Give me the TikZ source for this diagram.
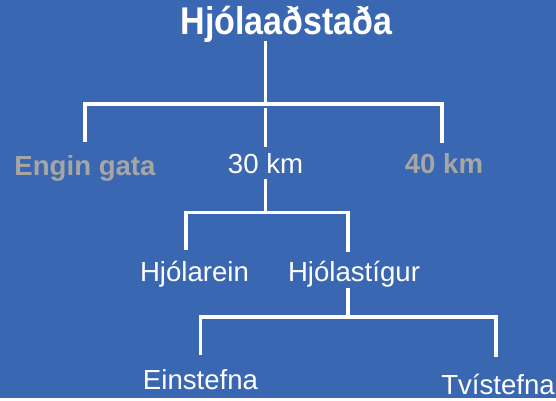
\documentclass[tikz,border=0pt]{standalone}
\usepackage{fontspec}
\setmainfont{Liberation Sans}
\newfontfamily\titill[FakeStretch=0.88]{Liberation Sans}
\definecolor{bakgrunnur}{HTML}{3A67B1}
\definecolor{grar}{HTML}{A6A6A6}
\tikzset{
    merki/.style={
           anchor=base,
           inner sep=0pt,
           text height=14.9pt,
           text depth=4.3pt,
           text=white,
           font=\fontsize{20.7}{24}\selectfont},
    merkigrar/.style={
           merki,
           text=grar,
           font=\fontsize{20.7}{24}\selectfont\bfseries},
    lina/.style={
           draw=white,
           line width=2.4pt}
}

\begin{document}
\begin{tikzpicture}[x=0.75pt, y=-0.75pt]
        \fill[bakgrunnur] (0,0) rectangle (556,398);
        \node[anchor=base, inner sep=0pt, text=white,
              font=\titill\bfseries\fontsize{29}{34}\selectfont] (titill) at (286.5,35) {Hjólaaðstaða};
        \node[merkigrar] (engin) at (85,175.7) {Engin gata};
        \node[merki] (km30) at (265.5,173.3) {30 km};
        \node[merkigrar] (km40) at (444,173.3) {40 km};
        \node[merki] (hjolarein) at (194.5,281.7) {Hjólarein};
        \node[merki] (hjolastigur) at (354,281.7) {Hjólastígur};
        \node[merki] (einstefna) at (200.5,389.3) {Einstefna};
        \node[merki] (tvistefna) at (498,394.3) {Tvístefna};
        \coordinate (g1) at (265.5,104);
        \coordinate (g2) at (265.5,212.5);
        \coordinate (g3) at (348,317);
        % efsta grein
        \draw[lina, shorten <=-2pt] (titill.south -| g1) -- (g1);
        \draw[lina, shorten >=10pt] (g1) -| (engin.north);
        \draw[lina, shorten >=7.5pt] (g1) -| ([xshift=-1.5pt]km40.north);
        \draw[lina, shorten <=3pt, shorten >=4.8pt] (g1) -- (km30.north);
        % 30 km
        \draw[lina] (km30.south) -- (g2);
        \draw[lina, shorten >=8.9pt] (g2) -| ([xshift=-6.4pt]hjolarein.north);
        \draw[lina, shorten >=7.1pt] (g2) -| ([xshift=-4.5pt]hjolastigur.north);
        % hjolastigur
        \draw[lina] ([xshift=-4.5pt]hjolastigur.south) -- (g3);
        \draw[lina, shorten >=10.8pt] (g3) -| (einstefna.north);
        \draw[lina, shorten >=13pt] (g3) -| ([xshift=-1.5pt]tvistefna.north);
\end{tikzpicture}
\end{document}
